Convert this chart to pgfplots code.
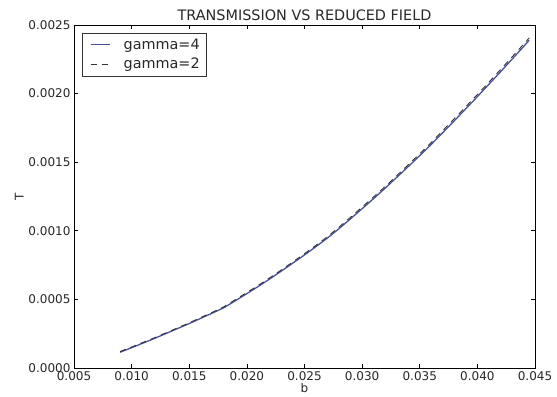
\documentclass[border=0pt]{standalone}
\usepackage{pgfplots}
\pgfplotsset{compat=1.18}
\usepackage{fontspec}
\setmainfont{DejaVu Sans}
\definecolor{lineblue}{RGB}{72,80,155}
\definecolor{txt}{RGB}{40,40,40}
\pgfplotstableread{
x        g4        g2
0.009    0.000115  0.000120
0.010    0.000148  0.000153
0.011    0.000182  0.000187
0.012    0.000216  0.000221
0.013    0.000252  0.000257
0.014    0.000288  0.000293
0.015    0.000324  0.000329
0.016    0.000362  0.000368
0.017    0.000400  0.000406
0.018    0.000439  0.000446
0.019    0.000490  0.000498
0.020    0.000542  0.000550
0.021    0.000595  0.000603
0.022    0.000650  0.000658
0.023    0.000707  0.000715
0.024    0.000765  0.000774
0.025    0.000824  0.000833
0.026    0.000885  0.000894
0.027    0.000948  0.000958
0.028    0.001016  0.001027
0.029    0.001088  0.001099
0.030    0.001161  0.001173
0.031    0.001235  0.001247
0.032    0.001311  0.001323
0.033    0.001389  0.001401
0.034    0.001468  0.001481
0.035    0.001548  0.001561
0.036    0.001630  0.001644
0.037    0.001716  0.001730
0.038    0.001802  0.001817
0.039    0.001890  0.001905
0.040    0.001978  0.001993
0.041    0.002068  0.002083
0.042    0.002158  0.002174
0.043    0.002250  0.002266
0.044    0.002342  0.002359
0.0445   0.002389  0.002406
}\datatable
\begin{document}
\begin{tikzpicture}
\begin{axis}[
  name=main,
  scale only axis,
  width=461pt, height=343pt,
  xmin=0.005, xmax=0.045,
  ymin=0, ymax=0.0025,
  xtick={0.005,0.010,...,0.045},
  ytick={0,0.0005,0.0010,0.0015,0.0020,0.0025},
  scaled ticks=false,
  /pgf/number format/assume math mode=true,
  xticklabel style={/pgf/number format/.cd,fixed,fixed zerofill,precision=3},
  yticklabel style={/pgf/number format/.cd,fixed,fixed zerofill,precision=4},
  tick align=inside,
  major tick length=4pt,
  tick style={black, line width=0.6pt},
  axis line style={black, line width=0.9pt},
  ticklabel style={font=\fontsize{12}{14}\selectfont, text=txt},
  title={TRANSMISSION VS REDUCED FIELD},
  title style={font=\fontsize{14.4}{16}\selectfont, text=txt, yshift=-5pt},
  xlabel={b}, ylabel={T},
  label style={font=\fontsize{12}{14}\selectfont, text=txt},
  xlabel style={yshift=4pt},
  ylabel style={yshift=-2pt},
  legend style={font=\fontsize{14.4}{16}\selectfont, text=txt, draw=black!80, line width=0.7pt, inner xsep=5pt, inner ysep=4pt, at={(0.018,0.978)}, anchor=north west, row sep=3pt},
  legend cell align=left,
  legend image code/.code={\draw[#1, line width=0.8pt] (3pt,0pt) -- (22pt,0pt); \path[draw=none, fill=none] (0pt,0pt) -- (34pt,0pt);},
]
\addplot[lineblue, line width=1.3pt] table[x=x, y=g4] {\datatable};
\addlegendentry{gamma=4}
\addplot[black!80, line width=0.9pt, dash pattern=on 6pt off 5pt] table[x=x, y=g2] {\datatable};
\addlegendentry{gamma=2}
\end{axis}
\path (main.south west) ++(-74pt,-27pt) coordinate (bbA);
\path (main.north east) ++(22pt,25pt) coordinate (bbB);
\useasboundingbox (bbA) rectangle (bbB);
\end{tikzpicture}
\end{document}
